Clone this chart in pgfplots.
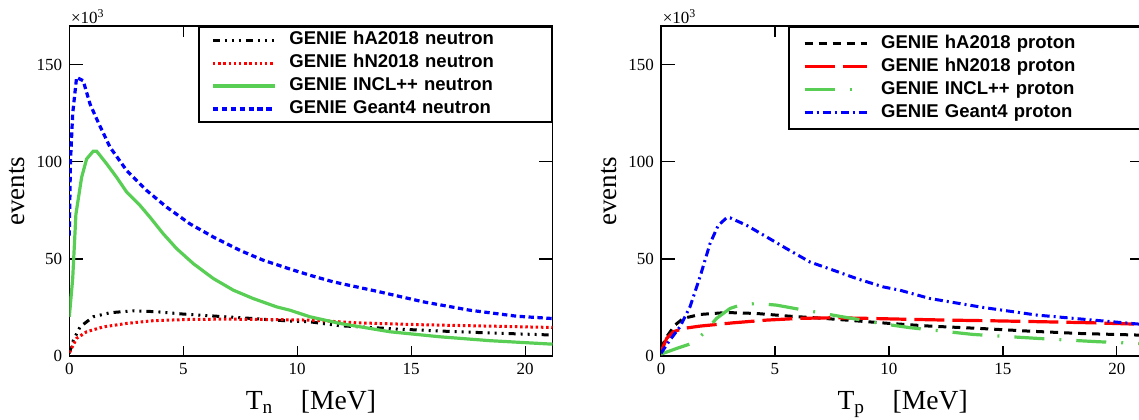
\documentclass[border=0pt]{standalone}
\usepackage{pgfplots}
\pgfplotsset{compat=1.18}
\usepackage{fontspec}
\setmainfont{Liberation Serif}
\newfontfamily\legfont{Liberation Sans}
\definecolor{cgreen}{RGB}{89,206,84}
\definecolor{cblue}{RGB}{0,0,255}
\definecolor{cred}{RGB}{255,0,0}
\pgfplotsset{
  myaxis/.style={
    width=241.6pt, height=165pt, scale only axis,
    xmin=0, xmax=21.2, ymin=0, ymax=170,
    xtick={0,5,10,15,20}, ytick={0,50,100,150},
    /pgf/number format/assume math mode=true,
    ticklabel style={font=\fontsize{8.5}{10}\selectfont},
    major tick length=7pt,
    xtick style={/pgfplots/major tick length=5.25pt, line width=0.6pt, black},
    ytick style={line width=0.6pt, black},
    axis line style={line width=0.75pt},
    minor tick num=0,
    every axis x label/.style={at={(axis description cs:0.5,-0.1606)}, anchor=base, font=\fontsize{13.8}{15}\selectfont},
    every axis y label/.style={at={(axis description cs:-0.1072,0.5)}, rotate=90, anchor=center, font=\fontsize{13.5}{15}\selectfont},
    ylabel={events},
    legend cell align=left,
    legend image code/.code={\draw[#1] (0pt,0pt) -- (31pt,0pt);},
  }
}
\begin{document}
\begin{tikzpicture}
\begin{axis}[myaxis, name=L,
  xlabel={T\textsubscript{n}\hspace{1em}[MeV]},
  legend style={at={(rel axis cs:1,1)}, anchor=north east, draw=black, line width=1pt,
    font=\legfont\bfseries\fontsize{9.25}{10}\selectfont,
    inner xsep=6pt, inner ysep=2.25pt, row sep=3pt, column sep=6.5pt,
    nodes={inner xsep=0pt, inner ysep=0pt, text height=6.6pt, text depth=1.9pt, text width=125pt, align=left}},
]
\addplot[black, line width=1.5pt, dash pattern=on 3.5pt off 2.5pt on 1pt off 2.5pt on 1pt off 2.5pt on 1pt off 2.5pt] coordinates {
(0,1.4) (0.18,8.2) (0.47,15) (1.05,20.2) (1.79,22.3) (2.81,23.3) (3.83,22.8) (5.0,21.6) (6.46,20.5) (7.93,19.4) (9.54,18.1) (10.56,17.6) (11.87,15.6) (14.36,13.9) (16.99,12.5) (19.91,11.3) (21.2,10.8)};
\addlegendentry{GENIE hA2018 neutron}
\addplot[cred, line width=1.5pt, dash pattern=on 1.25pt off 1.35pt] coordinates {
(0,1.7) (0.32,9.1) (0.76,12.5) (1.49,15) (2.52,16.8) (3.68,18.2) (5.15,18.8) (6.9,19.0) (8.66,18.8) (10.56,18.5) (12.6,17.1) (15.5,16.1) (18.45,15.4) (21.2,14.7)};
\addlegendentry{GENIE hN2018 neutron}
\addplot[cgreen, line width=1.6pt] coordinates {
(0,20.2) (0.15,40) (0.29,73) (0.54,92) (0.76,101.5) (1.05,105.5) (1.2,105.5) (1.64,99) (2.08,92) (2.52,84.4) (3.1,77.6) (3.54,71.5) (4.12,63) (4.71,55.3) (5.44,47.6) (6.32,39.9) (7.2,33.9) (8.07,29.6) (9.1,25.3) (9.68,23.6) (10.56,20.2) (11.87,16.8) (14.06,12.5) (16.26,9.9) (18.45,7.9) (21.2,6.1)};
\addlegendentry{GENIE INCL++ neutron}
\addplot[cblue, line width=1.6pt, dash pattern=on 2.7pt off 1.75pt] coordinates {
(0,62) (0.05,100) (0.15,125) (0.32,143.5) (0.61,141.8) (0.91,129.8) (1.27,120.3) (1.79,107.5) (2.52,95.5) (3.39,85.3) (4.27,76.7) (5.29,68.1) (6.32,61.3) (7.49,54.4) (8.52,49.3) (9.68,44.8) (10.56,41.6) (11.58,38.2) (13.63,33.0) (15.53,27.9) (17.57,23.6) (19.63,20.5) (21.2,19.3)};
\addlegendentry{GENIE Geant4 neutron}
\end{axis}
\begin{axis}[myaxis, name=R, at={(295.85pt,0pt)}, anchor=south west,
  xlabel={T\textsubscript{p}\hspace{1em}[MeV]},
  legend style={at={(rel axis cs:1,1)}, anchor=north east, draw=black, line width=1pt,
    font=\legfont\bfseries\fontsize{9.25}{10}\selectfont,
    inner xsep=7pt, inner ysep=4pt, row sep=3pt, column sep=6.5pt,
    nodes={inner xsep=0pt, inner ysep=0pt, text height=6.6pt, text depth=1.9pt, text width=124pt, align=left}},
]
\addplot[black, line width=1.5pt, dash pattern=on 4pt off 3pt] coordinates {
(0,3.9) (0.25,9.9) (0.61,15.9) (0.98,19.4) (1.71,21.4) (2.88,22.4) (4.2,21.9) (5.66,20.5) (7.12,19.4) (8.58,18.1) (10.0,16.8) (11.8,15.4) (13.99,14.2) (16.18,12.8) (18.38,11.6) (21.2,10.7)};
\addlegendentry{GENIE hA2018 proton}
\addplot[cred, line width=1.6pt, dash pattern=on 15pt off 4pt] coordinates {
(0,2.2) (0.25,9.1) (0.54,12.5) (0.98,14.2) (1.71,15.4) (3.17,17.1) (4.64,18.5) (6.1,19.4) (7.56,19.7) (9.02,19.4) (10.48,19.0) (12.53,18.5) (14.72,18.1) (16.92,17.6) (18.96,17.1) (21.2,16.3)};
\addlegendentry{GENIE hN2018 proton}
\addplot[cgreen, line width=1.6pt, dash pattern=on 15pt off 7.5pt on 1pt off 7.5pt] coordinates {
(0,1.0) (0.69,3.9) (1.35,6.5) (1.86,11.6) (2.44,19.4) (3.03,24.5) (3.46,26.2) (4.2,27.1) (5.07,26.2) (6.1,24) (6.97,22.3) (7.71,20.7) (9.02,18.1) (9.6,16.8) (10.92,14.6) (13.7,11.1) (16.48,9.1) (19.1,7.4) (21.2,6.3)};
\addlegendentry{GENIE INCL++ proton}
\addplot[cblue, line width=1.5pt, dash pattern=on 4pt off 2pt on 1pt off 2pt] coordinates {
(0,1.4) (0.39,8.2) (0.83,15) (1.27,25.3) (1.71,40.7) (2.15,57.9) (2.51,67.3) (2.88,71.2) (3.03,71.2) (3.76,67.3) (4.64,61.3) (5.51,55.3) (6.54,48.4) (7.56,44.2) (8.58,39.9) (9.75,35.6) (10.48,33.9) (11.8,29.6) (14.14,25) (16.48,21.1) (18.67,18.8) (21.2,16.2)};
\addlegendentry{GENIE Geant4 proton}
\end{axis}
\node[anchor=base west, inner sep=0pt, font=\fontsize{8.5}{10}\selectfont] at ([xshift=0.7pt,yshift=1.35pt]L.north west) {×10\textsuperscript{3}};
\node[anchor=base west, inner sep=0pt, font=\fontsize{8.5}{10}\selectfont] at ([xshift=0.7pt,yshift=1.35pt]R.north west) {×10\textsuperscript{3}};
\pgfresetboundingbox
\useasboundingbox (-34.65pt,-31.5pt) rectangle (534.85pt,178pt);
\end{tikzpicture}
\end{document}
